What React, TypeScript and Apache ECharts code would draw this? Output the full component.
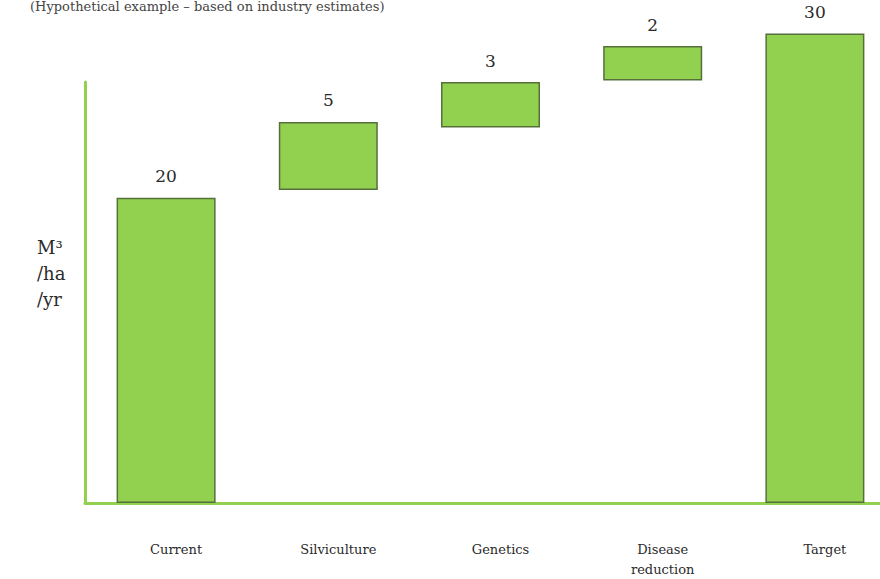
import React, { useEffect, useRef } from "react";
import * as echarts from "echarts";

const categories = ["Current", "Silviculture", "Genetics", "Disease\nreduction", "Target"];
const valueLabels = [20, 5, 3, 2, 30];
// bar bottoms and tops as drawn in the picture (M³/ha/yr)
const barBottom = [0, 20.0, 24.0, 27.0, 0];
const barTop = [19.5, 24.35, 26.9, 29.2, 30.0];
const yMax = 26.9;

const SERIF = "'DejaVu Serif', 'Liberation Serif', serif";

export default function App() {
  const ref = useRef<HTMLDivElement>(null);
  useEffect(() => {
    if (!ref.current) return;
    const chart = echarts.init(ref.current, undefined, { renderer: "svg" });
    const heights = barTop.map((t, i) => +(t - barBottom[i]).toFixed(2));
    chart.setOption({
      animation: false,
      backgroundColor: "#ffffff",
      grid: { left: 85, right: 0, top: 82, bottom: 74 },
      xAxis: {
        type: "category",
        data: categories,
        axisLine: { lineStyle: { color: "#92d050", width: 3 } },
        axisTick: { show: false },
        axisLabel: {
          margin: 36,
          fontFamily: SERIF,
          fontSize: 13,
          color: "#2a2a2a",
          lineHeight: 20,
          verticalAlign: "top",
          padding: [0, 0, 0, 20],
        },
        z: 0,
      },
      yAxis: {
        type: "value",
        min: 0,
        max: yMax,
        axisLine: { show: true, lineStyle: { color: "#92d050", width: 3 } },
        axisTick: { show: false },
        axisLabel: { show: false },
        splitLine: { show: false },
      },
      series: [
        {
          type: "bar",
          stack: "w",
          data: barBottom,
          barWidth: 99,
          clip: false,
          itemStyle: { color: "transparent", borderWidth: 0 },
          silent: true,
        },
        {
          type: "bar",
          stack: "w",
          data: heights,
          barWidth: 99,
          clip: false,
          itemStyle: { color: "#92d050", borderColor: "#55703a", borderWidth: 1.5 },
          label: {
            show: true,
            position: "top",
            distance: 13,
            fontFamily: SERIF,
            fontSize: 17,
            color: "#2a2a2a",
            formatter: (p: any) => String(valueLabels[p.dataIndex]),
          },
        },
      ],
      graphic: [
        {
          type: "text",
          left: 30,
          top: 0,
          style: {
            text: "(Hypothetical example – based on industry estimates)",
            font: `13px ${SERIF}`,
            fill: "#444",
          },
        },
        {
          type: "text",
          left: 37,
          top: 234,
          style: {
            text: "M³\n/ha\n/yr",
            font: `18px ${SERIF}`,
            fill: "#2a2a2a",
            lineHeight: 26,
          },
        },
      ],
    });
    return () => chart.dispose();
  }, []);
  return (
    <div
      style={{
        position: "fixed",
        left: 0,
        top: 0,
        width: 880,
        height: 579,
        overflow: "hidden",
        background: "#fff",
      }}
    >
      <div ref={ref} style={{ width: 896, height: 579 }} />
    </div>
  );
}
